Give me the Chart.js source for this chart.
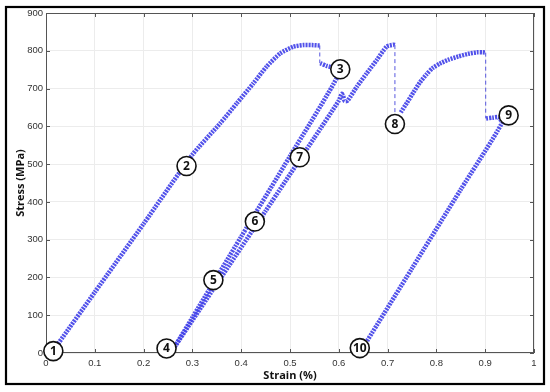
<!DOCTYPE html>
<html>
<head>
<meta charset="utf-8">
<script src="https://cdn.jsdelivr.net/npm/chart.js@4.4.1/dist/chart.umd.min.js"></script>
<style>
  html, body { margin: 0; padding: 0; background: #fff; }
  #wrap { width: 550px; height: 392px; position: relative; }
</style>
</head>
<body>
<div id="wrap"><canvas id="chart"></canvas></div>
<script>
// loading 1 -> first peak
const strainA = [0.025, 0.1, 0.2, 0.3, 0.357, 0.391, 0.425, 0.452, 0.48, 0.507, 0.527, 0.545, 0.561];
const stressA = [25, 161, 342, 525, 608, 661, 714, 758, 793, 811, 815, 815, 814];
// after drop, 3 -> unload to 4
const strainB = [0.562, 0.575, 0.59, 0.6, 0.5, 0.4, 0.3, 0.264];
const stressB = [767, 760, 754, 738, 521, 308, 94, 17];
// reload 4 -> 5 -> 6 -> 7 -> second peak
const strainC = [0.264, 0.35, 0.45, 0.55, 0.6, 0.606, 0.609, 0.612, 0.618, 0.637, 0.657, 0.678, 0.698, 0.712, 0.715];
const stressC = [17, 183, 376, 570, 668, 686, 680, 667, 668, 705, 740, 776, 811, 816, 815];
// 8 -> third peak
const strainD = [0.727, 0.74, 0.753, 0.766, 0.78, 0.792, 0.807, 0.824, 0.845, 0.865, 0.883, 0.895, 0.901];
const stressD = [637, 663, 690, 716, 738, 754, 766, 776, 785, 792, 796, 796, 795];
// 9 -> unload to 10
const strainE = [0.902, 0.915, 0.927, 0.934, 0.85, 0.75, 0.657];
const stressE = [621, 623, 624, 608, 433, 224, 30];
// load drops (dashed)
const dropStrain = [[0.561, 0.561], [0.715, 0.715], [0.901, 0.901]];
const dropStress = [[814, 767], [815, 632], [795, 621]];
// numbered markers
const labelText = ['1', '2', '3', '4', '5', '6', '7', '8', '9', '10'];
const labelStrain = [0.015, 0.288, 0.603, 0.247, 0.343, 0.428, 0.52, 0.715, 0.948, 0.643];
const labelStress = [5, 495, 751, 12, 193, 348, 518, 606, 629, 13];

const blue = 'rgba(66,66,232,0.92)';
const pts = (xs, ys) => xs.map((v, i) => ({x: v, y: ys[i]}));

const curves = [[strainA, stressA], [strainB, stressB], [strainC, stressC], [strainD, stressD], [strainE, stressE]]
  .map(([xs, ys]) => ({
    data: pts(xs, ys), showLine: true, borderColor: blue, borderWidth: 4.5,
    borderDash: [2, 1], pointRadius: 0, tension: 0.2, borderCapStyle: 'butt'
  }));
const drops = dropStrain.map((xs, i) => ({
  data: pts(xs, dropStress[i]), showLine: true, borderColor: 'rgba(70,70,220,0.9)',
  borderWidth: 1, borderDash: [4, 3], pointRadius: 0
}));

const decor = {
  id: 'decor',
  beforeDraw(chart) {
    const ctx = chart.ctx;
    ctx.save();
    ctx.fillStyle = '#fff';
    ctx.fillRect(0, 0, chart.width, chart.height);
    ctx.restore();
  },
  afterDraw(chart) {
    const {ctx, chartArea: a, scales: {x, y}} = chart;
    ctx.save();
    // axes box
    ctx.strokeStyle = '#555';
    ctx.lineWidth = 1;
    ctx.strokeRect(a.left + 0.5, a.top + 0.5, a.right - a.left - 1, a.bottom - a.top - 1);
    // inward ticks
    ctx.beginPath();
    x.ticks.forEach(t => {
      const px = Math.round(x.getPixelForValue(t.value)) + 0.5;
      ctx.moveTo(px, a.top); ctx.lineTo(px, a.top + 4);
      ctx.moveTo(px, a.bottom); ctx.lineTo(px, a.bottom - 4);
    });
    y.ticks.forEach(t => {
      const py = Math.round(y.getPixelForValue(t.value)) + 0.5;
      ctx.moveTo(a.left, py); ctx.lineTo(a.left + 4, py);
      ctx.moveTo(a.right, py); ctx.lineTo(a.right - 4, py);
    });
    ctx.stroke();
    // numbered circles
    labelText.forEach((txt, i) => {
      const cx = x.getPixelForValue(labelStrain[i]);
      const cy = y.getPixelForValue(labelStress[i]);
      ctx.beginPath();
      ctx.arc(cx, cy, 9.5, 0, Math.PI * 2);
      ctx.fillStyle = '#fff';
      ctx.fill();
      ctx.lineWidth = 1.6;
      ctx.strokeStyle = '#111';
      ctx.stroke();
      ctx.fillStyle = '#111';
      ctx.font = 'bold 12px "Open Sans"';
      ctx.textAlign = 'center';
      ctx.textBaseline = 'middle';
      ctx.fillText(txt, cx, cy + 0.5);
    });
    // outer frame
    ctx.strokeStyle = '#000';
    ctx.lineWidth = 2.2;
    ctx.strokeRect(6, 7, 538, 377);
    ctx.restore();
  }
};

const tickFont = { family: 'Liberation Sans', size: 9.5 };

new Chart(document.getElementById('chart'), {
  type: 'scatter',
  data: { datasets: [...curves, ...drops] },
  options: {
    responsive: true,
    maintainAspectRatio: false,
    animation: false,
    layout: { padding: { left: 10, right: 16, top: 13, bottom: 6 } },
    plugins: { legend: { display: false }, tooltip: { enabled: false } },
    scales: {
      x: {
        type: 'linear', min: 0, max: 1,
        afterFit: s => { s.height = 33; },
        ticks: { stepSize: 0.1, padding: 5, color: '#333', font: tickFont,
                 callback: v => String(Math.round(v * 10) / 10) },
        grid: { color: '#ececec', drawTicks: false },
        border: { display: false },
        title: { display: true, text: 'Strain (%)', color: '#111', font: { family: 'Open Sans', size: 11, weight: 'bold' }, padding: { top: 2, bottom: 4 } }
      },
      y: {
        type: 'linear', min: 0, max: 900,
        afterFit: s => { s.width = 36; },
        ticks: { stepSize: 100, padding: 3, color: '#333', font: tickFont },
        grid: { color: '#ececec', drawTicks: false },
        border: { display: false },
        title: { display: true, text: 'Stress (MPa)', color: '#111', font: { family: 'Open Sans', size: 11, weight: 'bold' }, padding: { top: 4, bottom: 2 } }
      }
    }
  },
  plugins: [decor]
});
</script>
</body>
</html>
